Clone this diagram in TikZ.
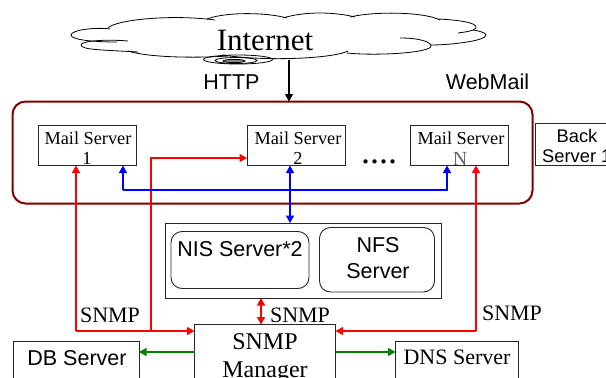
\documentclass[tikz,border=0pt]{standalone}
\usepackage{fontspec}
\setmainfont{Liberation Serif}
\newfontfamily\arialf{Liberation Sans}
\usetikzlibrary{arrows.meta,calc}
\definecolor{rimred}{RGB}{128,0,0}
\definecolor{flowgreen}{RGB}{0,128,0}
\tikzset{
  box/.style={draw=black!85,line width=.9pt,inner sep=0pt,outer sep=0pt,anchor=north west},
  innerbox/.style={box,rounded corners=11pt},
  serifl/.style={font=\fontsize{22}{22}\selectfont,inner sep=0pt},
  sansl/.style={font=\arialf\fontsize{21.5}{22}\selectfont,inner sep=0pt},
  mailtext/.style={font=\fontsize{18.3}{20}\selectfont,inner sep=0pt,align=center},
  tip/.style={-{Triangle[length=7.5pt,width=8pt]}},
  bitip/.style={{Triangle[length=7.5pt,width=8pt]}-{Triangle[length=7.5pt,width=8pt]}},
  redline/.style={draw=red,line width=1.25pt},
  blueline/.style={draw=blue,line width=1.25pt},
  greenline/.style={draw=flowgreen,line width=1.25pt},
  cloudline/.style={draw=black,line width=.8pt},
}
\begin{document}
\begin{tikzpicture}[x=1pt,y=-1pt]
\useasboundingbox (0,0) rectangle (606,378);
\clip (0,0) rectangle (606,378);
% cloud
\draw[cloudline] (110,29) .. controls (95,27) and (71,30) .. (71,35) .. controls (71,40) and (95,42) .. (117,42);
\draw[cloudline] (128,41) .. controls (105,39) and (81,41) .. (81,45) .. controls (81,50) and (105,50) .. (138,52);
\draw[cloudline] (108,28) .. controls (115,20) and (170,14) .. (215,20);
\draw[cloudline] (207,19) .. controls (225,12) and (265,12) .. (287,18);
\draw[cloudline] (283,18) .. controls (305,11) and (335,12) .. (355,17);
\draw[cloudline] (350,17) .. controls (375,11) and (425,12) .. (440,20);
\draw[cloudline] (439,19) .. controls (455,20) and (478,22) .. (476,28) .. controls (474,31) and (465,32) .. (458,33);
\draw[cloudline] (473,30) .. controls (480,31) and (486,33) .. (486,35) .. controls (486,41) and (450,45) .. (431,45);
\draw[cloudline] (400,38) .. controls (420,38) and (431,42) .. (431,46) .. controls (431,53) and (375,56) .. (347,53);
\draw[cloudline] (348,51) .. controls (335,58) and (270,62) .. (222,55);
\draw[cloudline] (128,51) .. controls (150,58) and (200,58) .. (228,56);
\draw[cloudline] (238,59.5) ellipse [x radius=34.5,y radius=4.5];
\draw[cloudline] (236,60.5) ellipse [x radius=21,y radius=3];
\draw[cloudline,fill=black!45] (234,61) ellipse [x radius=11,y radius=1.6];
\node[font=\fontsize{31}{31}\selectfont,inner sep=0pt,anchor=base] (internet) at (265,50) {Internet};
\coordinate (inetout) at (289,60);
% webmail frame
\node[draw=rimred,line width=2pt,rounded corners=13pt,inner sep=0pt,outer sep=0pt,anchor=north west,minimum width=520pt,minimum height=102pt] (webmail) at (12.5,101.5) {};
\node[sansl,anchor=base] (http) at (231.5,89) {HTTP};
\node[sansl,anchor=base] (wmlabel) at (487.5,89) {WebMail};
% mail servers
\node[box,minimum width=98pt,minimum height=40pt] (mail1) at (38,125.5) {};
\node[mailtext,anchor=base] at (88,144) {Mail Server};
\node[mailtext,anchor=base] at (87,164) {1};
\node[box,minimum width=98pt,minimum height=40pt] (mail2) at (247,125.5) {};
\node[mailtext,anchor=base] at (298,144) {Mail Server};
\node[mailtext,anchor=base] at (298,164) {2};
\node[box,minimum width=98pt,minimum height=40pt] (mailn) at (410.5,125.5) {};
\node[mailtext,anchor=base] at (461,144) {Mail Server};
\node[font=\fontsize{20}{20}\selectfont,inner sep=0pt,anchor=base,text=black!60] at (460,165) {N};
\node[font=\fontsize{36}{36}\selectfont,inner sep=0pt,anchor=base] (dots) at (379,163.5) {....};
% back server
\node[box,minimum width=90pt,minimum height=42.5pt] (back) at (535.5,123) {};
\node[font=\arialf\fontsize{18.3}{20}\selectfont,inner sep=0pt,anchor=base] at (577,142) {Back};
\node[font=\arialf\fontsize{18.3}{20}\selectfont,inner sep=0pt,anchor=base west] at (542,162.5) {Server 1};
% NIS NFS
\node[box,minimum width=276pt,minimum height=75pt] (group) at (165,223) {};
\node[innerbox,minimum width=138pt,minimum height=57pt] (nis) at (171,231.5) {};
\node[sansl,anchor=base] at (240,256) {NIS Server*2};
\node[innerbox,minimum width=115pt,minimum height=64.5pt] (nfs) at (319.5,227.5) {};
\node[sansl,anchor=base] at (378,252) {NFS};
\node[sansl,anchor=base] at (378,278) {Server};
% bottom boxes
\node[box,minimum width=126pt,minimum height=60pt] (db) at (13,341.5) {};
\node[sansl,anchor=base] at (77,365) {DB Server};
\node[box,fill=white,minimum width=141pt,minimum height=70pt] (mgr) at (194.5,324.5) {};
\node[font=\fontsize{24}{26}\selectfont,inner sep=0pt,anchor=base] at (265,349) {SNMP};
\node[font=\fontsize{24}{26}\selectfont,inner sep=0pt,anchor=base] at (265,377) {Manager};
\node[box,minimum width=123pt,minimum height=60pt] (dns) at (395.5,341) {};
\node[serifl,anchor=base] at (457,364) {DNS Server};
% SNMP labels
\node[serifl,anchor=base] (s1) at (110,322) {SNMP};
\node[serifl,anchor=base] (s2) at (300,322) {SNMP};
\node[serifl,anchor=base] (s3) at (512,320) {SNMP};
% connectors
\draw[tip,line width=1.1pt] (inetout) -- (inetout |- webmail.north);
\coordinate (rowred) at (0,331);
\coordinate (rowblue) at (0,190);
\draw[redline,tip] (76,0 |- rowred) -- (76,0 |- mail1.south);
\draw[redline,tip] (76,0 |- rowred) -- (mgr.west |- rowred);
\draw[redline,tip] (151,0 |- rowred) -- (151,158) -- (mail2.west |- 0,158);
\draw[redline,tip] (476,0 |- rowred) -- (476,0 |- mailn.south);
\draw[redline,tip] (476,0 |- rowred) -- (mgr.east |- rowred);
\draw[blueline,tip] (123,0 |- rowblue) -- (123,0 |- mail1.south);
\draw[blueline,tip] (123,0 |- rowblue) -- (447,0 |- rowblue) -- (447,0 |- mailn.south);
\draw[blueline,bitip] (290,0 |- mail2.south) -- (290,0 |- group.north);
\draw[redline,bitip] (261,0 |- group.south) -- (261,0 |- mgr.north);
\draw[greenline,tip] (mgr.west |- 0,352) -- (db.east |- 0,352);
\draw[greenline,tip] (mgr.east |- 0,352) -- (dns.west |- 0,352);
\end{tikzpicture}
\end{document}
